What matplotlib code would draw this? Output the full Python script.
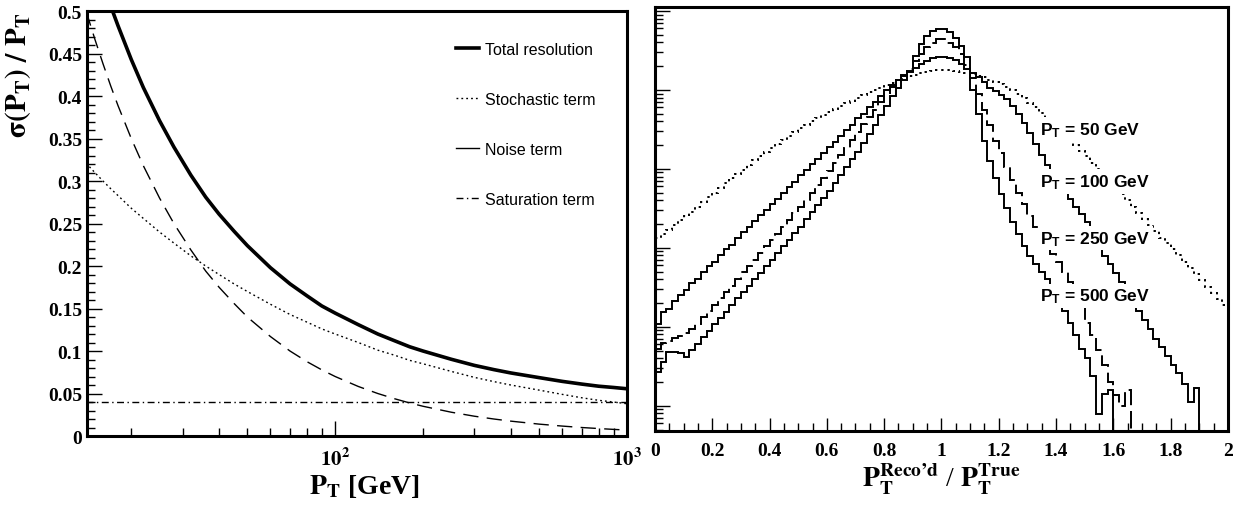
"""Jet pT resolution terms (left) and reco/true pT response histograms (right)."""
import numpy as np
import matplotlib
matplotlib.use('Agg')
import matplotlib.pyplot as plt
from matplotlib.lines import Line2D
from matplotlib.ticker import (FixedLocator, FixedFormatter, MultipleLocator,
                               LogLocator, NullFormatter, FuncFormatter)

plt.rcParams['font.family'] = ['Liberation Serif', 'DejaVu Serif']
plt.rcParams['font.weight'] = 'bold'
plt.rcParams['mathtext.fontset'] = 'stix'
plt.rcParams['mathtext.rm'] = 'Liberation Sans'
plt.rcParams['mathtext.it'] = 'Liberation Sans:italic'
plt.rcParams['mathtext.bf'] = 'Liberation Sans:bold'

# ── left panel: resolution terms vs pT ────────────────────────────────
pt = [14, 15, 16, 17, 18, 20, 22, 25, 28, 32, 36, 40, 45, 50, 60, 70, 80, 90,
      100, 120, 140, 160, 180, 200, 250, 300, 350, 400, 500, 600, 700, 800,
      900, 1000]
total = [0.596, 0.562, 0.532, 0.506, 0.483, 0.443, 0.410, 0.371, 0.340, 0.307,
         0.281, 0.261, 0.241, 0.224, 0.198, 0.179, 0.165, 0.153, 0.1446, 0.131,
         0.120, 0.112, 0.105, 0.100, 0.0903, 0.0831, 0.0781, 0.0742, 0.0687,
         0.0643, 0.0611, 0.0586, 0.0571, 0.0556]
stochastic = [0.321, 0.310, 0.300, 0.291, 0.283, 0.268, 0.256, 0.240, 0.227,
              0.212, 0.200, 0.190, 0.179, 0.170, 0.155, 0.143, 0.134, 0.126,
              0.120, 0.110, 0.101, 0.095, 0.089, 0.085, 0.076, 0.069, 0.064,
              0.060, 0.054, 0.049, 0.045, 0.042, 0.040, 0.038]
noise = [0.500, 0.467, 0.438, 0.412, 0.389, 0.350, 0.318, 0.280, 0.250, 0.219,
         0.194, 0.175, 0.156, 0.140, 0.117, 0.100, 0.0875, 0.0778, 0.070,
         0.0583, 0.050, 0.0438, 0.0389, 0.035, 0.028, 0.0233, 0.020, 0.0175,
         0.014, 0.0117, 0.010, 0.0088, 0.0078, 0.007]
pt_sat = [14, 1000]
saturation = [0.04, 0.04]

legend_labels = ['Total resolution', 'Stochastic term', 'Noise term',
                 'Saturation term']

# ── right panel: log10 of bin contents, 100 bins on [0, 2] ────────────
ratio_edges = np.linspace(0.0, 2.0, 101)
log_h50 = [2.12, 2.18, 2.23, 2.29, 2.35, 2.40, 2.46, 2.52, 2.58, 2.64,
           2.70, 2.76, 2.82, 2.88, 2.94, 2.99, 3.05, 3.11, 3.16, 3.22,
           3.27, 3.32, 3.37, 3.42, 3.47, 3.52, 3.56, 3.60, 3.64, 3.68,
           3.72, 3.76, 3.79, 3.83, 3.86, 3.90, 3.93, 3.97, 4.00, 4.03,
           4.06, 4.09, 4.12, 4.14, 4.17, 4.19, 4.21, 4.23, 4.24, 4.25,
           4.25, 4.25, 4.24, 4.23, 4.22, 4.20, 4.18, 4.16, 4.13, 4.10,
           4.07, 4.04, 4.00, 3.95, 3.90, 3.84, 3.78, 3.71, 3.65, 3.58,
           3.51, 3.44, 3.37, 3.30, 3.23, 3.16, 3.08, 3.00, 2.92, 2.84,
           2.76, 2.68, 2.60, 2.52, 2.44, 2.37, 2.29, 2.21, 2.13, 2.06,
           1.99, 1.91, 1.82, 1.75, 1.67, 1.59, 1.51, 1.43, 1.35, 1.27]
log_h100 = [1.04, 1.19, 1.22, 1.33, 1.40, 1.47, 1.55, 1.60, 1.69, 1.77,
            1.82, 1.91, 1.98, 2.04, 2.13, 2.20, 2.26, 2.34, 2.41, 2.48,
            2.56, 2.62, 2.70, 2.77, 2.84, 2.92, 2.98, 3.06, 3.13, 3.20,
            3.28, 3.34, 3.42, 3.49, 3.56, 3.64, 3.70, 3.78, 3.85, 3.92,
            4.00, 4.06, 4.12, 4.18, 4.23, 4.28, 4.33, 4.37, 4.40, 4.42,
            4.42, 4.41, 4.38, 4.33, 4.27, 4.22, 4.16, 4.10, 4.03, 3.98,
            3.94, 3.88, 3.80, 3.70, 3.58, 3.45, 3.31, 3.18, 3.05, 2.93,
            2.82, 2.72, 2.62, 2.52, 2.43, 2.33, 2.20, 2.05, 1.90, 1.80,
            1.68, 1.57, 1.45, 1.32, 1.20, 1.08, 0.97, 0.85, 0.75, 0.63,
            0.52, 0.41, 0.28, 0.05, 0.22, -3, -3, -3, -3, -3]
log_h250 = [0.72, 0.80, 0.82, 0.86, 0.88, 0.92, 0.97, 1.04, 1.12, 1.20,
            1.28, 1.36, 1.44, 1.52, 1.61, 1.69, 1.77, 1.85, 1.93, 2.02,
            2.10, 2.18, 2.27, 2.35, 2.44, 2.52, 2.61, 2.70, 2.79, 2.88,
            2.97, 3.07, 3.17, 3.27, 3.37, 3.47, 3.57, 3.66, 3.75, 3.85,
            3.95, 4.04, 4.12, 4.19, 4.26, 4.36, 4.46, 4.54, 4.60, 4.64,
            4.64, 4.60, 4.54, 4.45, 4.32, 4.15, 3.95, 3.75, 3.55, 3.35,
            3.20, 3.02, 2.86, 2.70, 2.55, 2.40, 2.26, 2.12, 2.02, 1.92,
            1.82, 1.70, 1.57, 1.42, 1.25, 1.05, 0.89, 0.70, 0.51, 0.30,
            0.13, 0.00, 0.20, -3, -3, -3, -3, -3, -3, -3,
            -3, -3, -3, -3, -3, -3, -3, -3, -3, -3]
log_h500 = [0.43, 0.56, 0.68, 0.68, 0.67, 0.62, 0.71, 0.78, 0.87, 0.95,
            1.03, 1.11, 1.19, 1.27, 1.36, 1.44, 1.52, 1.60, 1.68, 1.77,
            1.85, 1.93, 2.02, 2.10, 2.19, 2.27, 2.36, 2.45, 2.54, 2.63,
            2.72, 2.82, 2.92, 3.02, 3.12, 3.22, 3.33, 3.44, 3.56, 3.68,
            3.80, 3.92, 4.03, 4.13, 4.24, 4.43, 4.58, 4.68, 4.74, 4.77,
            4.77, 4.73, 4.66, 4.55, 4.42, 4.00, 3.70, 3.35, 3.10, 2.88,
            2.68, 2.50, 2.33, 2.17, 2.02, 1.90, 1.80, 1.70, 1.60, 1.48,
            1.35, 1.20, 1.05, 0.90, 0.72, 0.60, 0.38, -0.10, 0.15, 0.20,
            -3, -3, -3, -3, -3, -3, -3, -3, -3, -3,
            -3, -3, -3, -3, -3, -3, -3, -3, -3, -3]

fig = plt.figure(figsize=(12.39, 5.10), dpi=100)
ax1 = fig.add_axes([0.0702, 0.1431, 0.4358, 0.8333])
ax2 = fig.add_axes([0.5286, 0.1529, 0.4625, 0.8314])

# ── left panel ─────────────────────────────────────────────────────────
ax1.plot(pt, total, color='black', lw=2.6)
ax1.plot(pt, stochastic, color='black', lw=1.0, ls=(0, (1.3, 2.2)))
ax1.plot(pt, noise, color='black', lw=1.0, ls=(0, (11, 6)))
ax1.plot(pt_sat, saturation, color='black', lw=1.0, ls=(0, (5, 2.5, 1, 2.5)))

ax1.set_xscale('log')
ax1.set_xlim(14.1, 1000)
ax1.set_ylim(0, 0.5)
ax1.xaxis.set_major_locator(FixedLocator([100, 1000]))
ax1.xaxis.set_major_formatter(FixedFormatter([r'$\mathbf{10^{2}}$',
                                              r'$\mathbf{10^{3}}$']))
ax1.xaxis.set_minor_locator(LogLocator(base=10, subs=np.arange(2, 10)))
ax1.xaxis.set_minor_formatter(NullFormatter())
ax1.yaxis.set_major_locator(MultipleLocator(0.05))
ax1.yaxis.set_minor_locator(MultipleLocator(0.01))
ax1.yaxis.set_major_formatter(FuncFormatter(lambda v, _: f'{v:g}'))

handles = [Line2D([], [], color='black', lw=2.6),
           Line2D([], [], color='black', lw=1.0, ls=(0, (1.3, 2.2))),
           Line2D([], [], color='black', lw=1.0),
           Line2D([], [], color='black', lw=1.0, ls=(0, (5, 2.5, 1, 2.5)))]
ax1.legend(handles, legend_labels, loc='upper left',
           bbox_to_anchor=(0.683, 0.928), frameon=False,
           prop={'family': 'Liberation Sans', 'weight': 'normal', 'size': 11.5},
           handlelength=1.45, handletextpad=0.35, labelspacing=2.2,
           borderpad=0, borderaxespad=0)

ax1.set_ylabel(r'$\mathbf{\sigma(P_T)\ /\ P_T}$', fontsize=21, loc='top')
ax1.yaxis.set_label_coords(-0.10, 1.0)
ax1.set_xlabel(r'$\mathbf{P_T}$ [GeV]', fontsize=20, fontweight='bold')
ax1.xaxis.set_label_coords(0.514, -0.085)

# ── right panel ────────────────────────────────────────────────────────
ax2.stairs(np.power(10.0, log_h50), ratio_edges, baseline=None,
           color='black', lw=1.4, ls=(0, (1.2, 2.0)))
ax2.stairs(np.power(10.0, log_h100), ratio_edges, baseline=None,
           color='black', lw=1.4)
ax2.stairs(np.power(10.0, log_h250), ratio_edges, baseline=None,
           color='black', lw=1.4, ls=(0, (9, 3)))
ax2.stairs(np.power(10.0, log_h500), ratio_edges, baseline=None,
           color='black', lw=1.4)

ax2.set_yscale('log')
ax2.set_xlim(0, 2)
ax2.set_ylim(10 ** -0.32, 10 ** 5.05)
ax2.xaxis.set_major_locator(MultipleLocator(0.2))
ax2.xaxis.set_minor_locator(MultipleLocator(0.05))
ax2.xaxis.set_major_formatter(FuncFormatter(lambda v, _: f'{v:g}'))
ax2.yaxis.set_major_locator(LogLocator(base=10, numticks=12))
ax2.yaxis.set_minor_locator(LogLocator(base=10, subs=np.arange(2, 10),
                                       numticks=12))
ax2.yaxis.set_major_formatter(NullFormatter())
ax2.yaxis.set_minor_formatter(NullFormatter())

# labels sit on white boxes that hide the lines running underneath
label_kw = dict(fontfamily='Liberation Sans', fontweight='bold', fontsize=12.5,
                va='center', ha='left', math_fontfamily='custom', zorder=5,
                bbox=dict(facecolor='white', edgecolor='none', pad=2.0))
ax2.text(1.345, 10 ** 3.50, r'$\mathbf{P_T}$ = 50 GeV', **label_kw)
ax2.text(1.345, 10 ** 2.84, r'$\mathbf{P_T}$ = 100 GeV', **label_kw)
ax2.text(1.345, 10 ** 2.12, r'$\mathbf{P_T}$ = 250 GeV', **label_kw)
ax2.text(1.345, 10 ** 1.39, r'$\mathbf{P_T}$ = 500 GeV', **label_kw)

ax2.set_xlabel('$\\mathbf{P_T^{Reco\u2019d}}$ / $\\mathbf{P_T^{True}}$',
               fontsize=20)
ax2.xaxis.set_label_coords(0.5, -0.07)

# ── ROOT-like frames and inward ticks ─────────────────────────────────
for ax in (ax1, ax2):
    for sp in ax.spines.values():
        sp.set_linewidth(2.2)
        sp.set_zorder(6)
    ax.tick_params(which='both', direction='in', top=False, right=False,
                   width=1.0, labelsize=14)
    ax.tick_params(which='major', length=10.5)
    ax.tick_params(which='minor', length=5.5)
    for lab in ax.get_xticklabels() + ax.get_yticklabels():
        lab.set_fontweight('bold')
ax1.tick_params(axis='x', which='major', pad=8, labelsize=15)
ax2.tick_params(axis='x', which='major', length=9.5, pad=8)

fig.savefig('out.png', dpi=100)
